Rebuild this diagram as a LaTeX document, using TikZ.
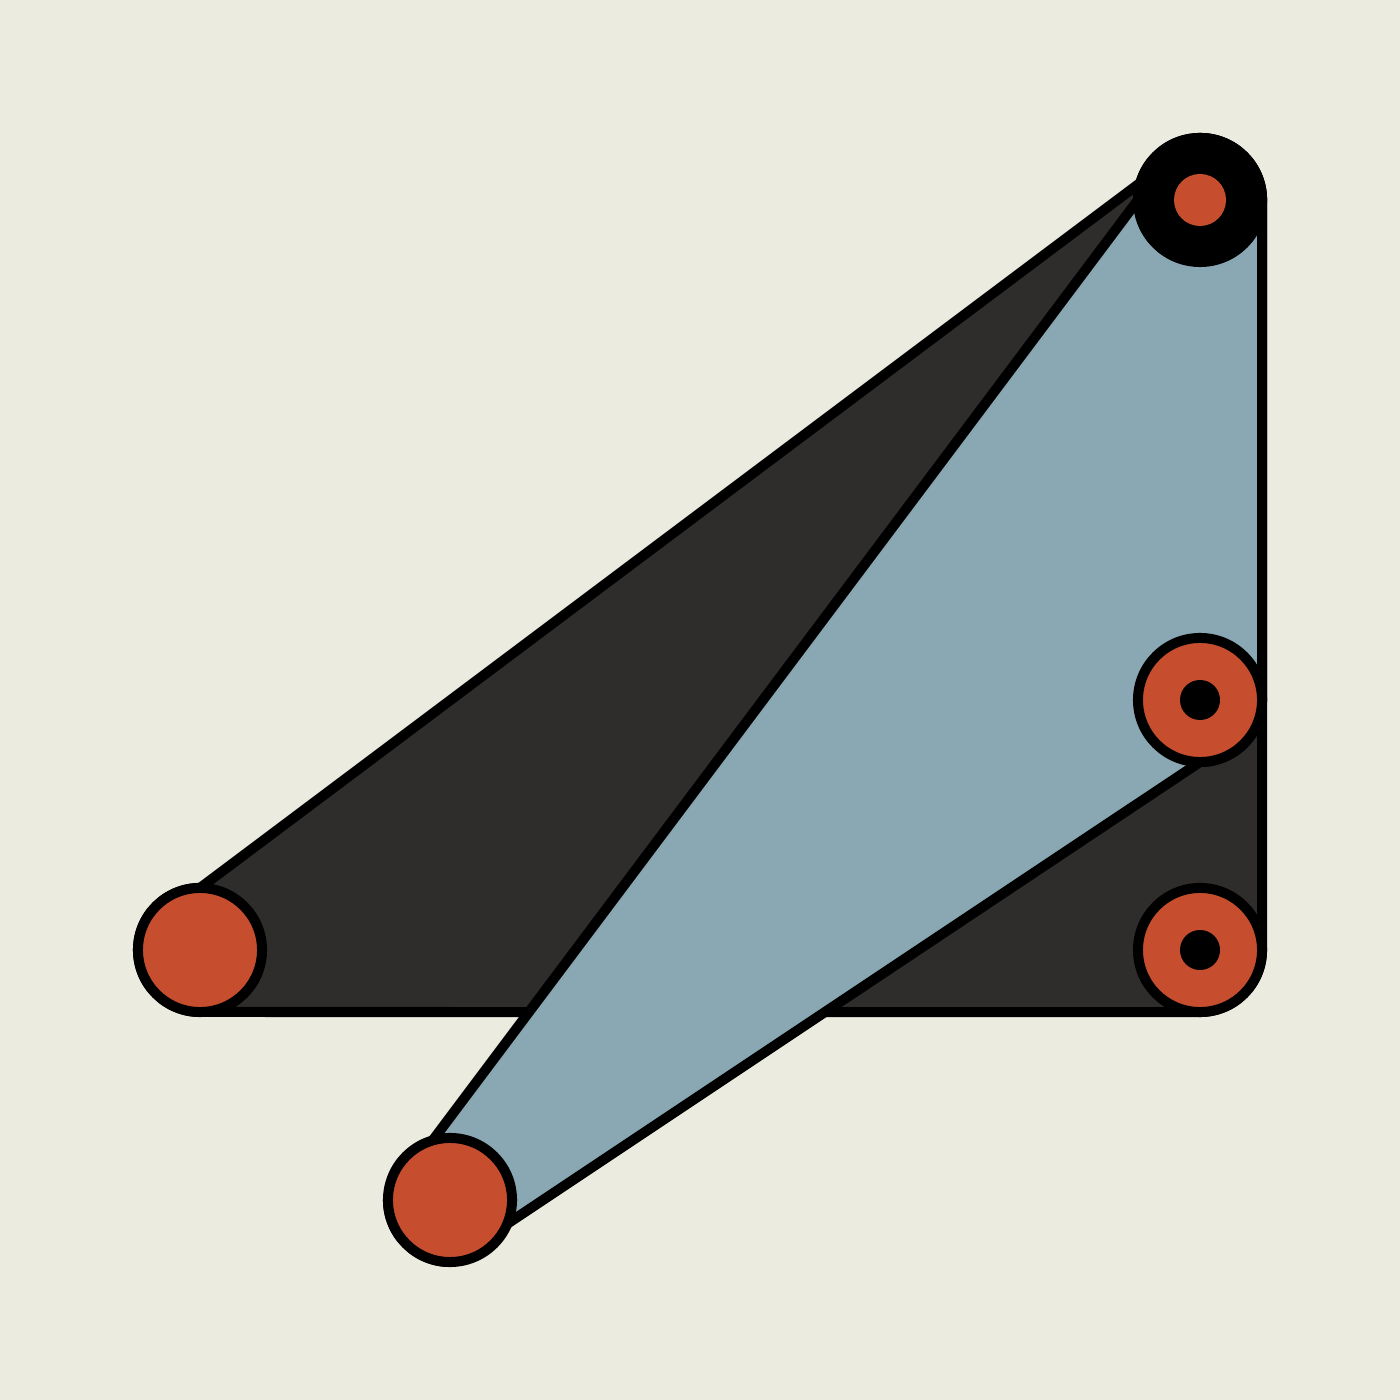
\documentclass[tikz,border=0pt]{standalone}
\usetikzlibrary{calc}
\definecolor{bgc}{HTML}{EBEBDF}
\definecolor{darkc}{HTML}{2E2D2B}
\definecolor{bluec}{HTML}{8AA8B4}
\definecolor{redc}{HTML}{C64E2E}
\begin{document}
\begin{tikzpicture}[x=0.01cm,y=0.01cm,
  edge/.style={draw=black,line width=0.1cm,line join=round},
  jointred/.style={draw=black,fill=redc,line width=0.1cm},
  hubblack/.style={draw=black,fill=black,line width=0.1cm}]
\fill[bgc] (0,0) rectangle (1400,1400);
\useasboundingbox (0,0) rectangle (1400,1400);
\coordinate (A) at (200,450);
\coordinate (B) at (1200,1200);
\coordinate (C) at (1200,450);
\coordinate (D) at (1200,700);
\coordinate (E) at (450,200);
% dark shape
\path[edge,fill=darkc] (200,512) -- (1200,1262)
  arc[start angle=90,end angle=0,radius=0.62cm] -- (1262,450)
  arc[start angle=0,end angle=-90,radius=0.62cm] -- (200,388)
  arc[start angle=-90,end angle=-270,radius=0.62cm] -- cycle;
% blue shape
\path[edge,fill=bluec] (388,200) -- (1138,1200)
  arc[start angle=180,end angle=0,radius=0.62cm] -- (1262,700)
  arc[start angle=0,end angle=-90,radius=0.62cm] -- (450,138)
  arc[start angle=-90,end angle=-180,radius=0.62cm] -- cycle;
% joints
\path[jointred] (A) circle[radius=0.62cm];
\path[jointred] (E) circle[radius=0.62cm];
\path[jointred] (C) circle[radius=0.62cm];
\path[jointred] (D) circle[radius=0.62cm];
\fill[black] (C) circle[radius=0.2cm];
\fill[black] (D) circle[radius=0.2cm];
\path[hubblack] (B) circle[radius=0.62cm];
\fill[redc] (B) circle[radius=0.26cm];
\end{tikzpicture}
\end{document}
